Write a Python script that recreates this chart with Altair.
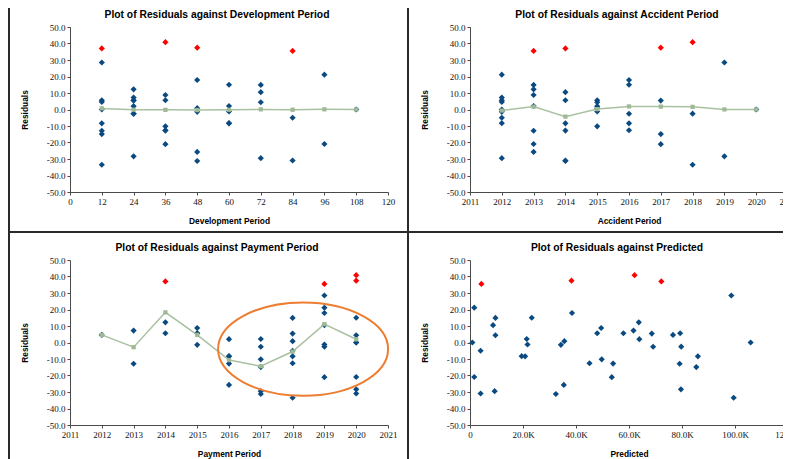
import altair as alt
import pandas as pd

# ---------------- data ----------------
accident_years = [2012, 2013, 2014, 2015, 2016, 2017, 2018, 2019, 2020]
dev_periods = [12, 24, 36, 48, 60, 72, 84, 96, 108]

# residual triangle: rows = accident year, columns = development period
residuals = [
    [4.6, 7.2, 5.6, -1.4, -8.3, -29.5, -5.0, 21.1, 0.0],
    [-12.9, 12.2, 8.8, -25.7, 2.1, 14.9, 35.5, -20.9],
    [37.0, 5.6, -12.8, -31.2, -8.4, 10.5, -30.9],
    [5.6, 2.0, -10.2, 0.8, -1.2, 4.4],
    [-8.4, -2.6, -12.6, 17.9, 15.0],
    [-14.9, 5.4, -21.0, 37.5],
    [-33.5, -2.5, 40.8],
    [28.5, -28.4],
    [0.0],
]

# predicted values (thousands) for the same cells
predicted_k = [
    [76.6, 61.7, 48.0, 34.3, 19.5, 9.3, 4.0, 1.6, 0.9],
    [79.1, 63.7, 49.5, 35.4, 21.4, 9.6, 4.3, 1.6],
    [72.2, 57.9, 54.0, 32.4, 20.8, 8.7, 4.0],
    [79.3, 63.9, 49.7, 35.6, 21.7, 9.6],
    [86.0, 69.1, 45.1, 38.5, 23.3],
    [85.4, 68.6, 53.5, 38.3],
    [99.5, 79.7, 62.1],
    [98.6, 79.6],
    [105.9],
]

OUTLIER_LEVEL = 35  # residuals above this are shown in red

# annotation ellipse on the payment-period panel (data coordinates)
ellipse_center_year = [2018.33]
ellipse_center_resid = [-4.0]

panel_titles = [
    "Plot of Residuals against Development Period",
    "Plot of Residuals against Accident Period",
    "Plot of Residuals against Payment Period",
    "Plot of Residuals against Predicted",
]

rows = []
for i, ay in enumerate(accident_years):
    for j, r in enumerate(residuals[i]):
        rows.append({
            "ay": ay,
            "dev": dev_periods[j],
            "pay": ay + j,
            "resid": r,
            "pred": predicted_k[i][j] * 1000,
        })
df = pd.DataFrame(rows)

# ---------------- styling ----------------
BLUE = "#0B4A80"
RED = "#FF0000"
GREEN_LINE = "#A9C1A0"
GREEN_MARK = "#9FB895"
ORANGE = "#ED7D31"
SEP = "#2A2A2A"

W = 318
H = 165

Y_LABELS = "(datum.value < 0 ? '-' : '') + format(abs(datum.value), '.1f')"

one = pd.DataFrame({"k": [0]})


def y_enc(field="resid:Q"):
    return alt.Y(
        field,
        scale=alt.Scale(domain=[-50, 50], nice=False, zero=False),
        axis=alt.Axis(
            values=list(range(-50, 51, 10)),
            labelExpr=Y_LABELS,
            title="Residuals",
            titleX=-46,
            titleY=H / 2,
            titleBaseline="middle",
            titleAngle=-90,
        ),
    )


def x_enc(field, domain, values, xtitle, label_expr=None, fmt=None):
    axis_kw = dict(
        values=values,
        title=xtitle,
        titleY=28,
        titleBaseline="middle",
        labelFlush=False,
        labelOverlap=False,
    )
    if label_expr:
        axis_kw["labelExpr"] = label_expr
    if fmt:
        axis_kw["format"] = fmt
    return alt.X(
        field,
        scale=alt.Scale(domain=domain, nice=False, zero=False),
        axis=alt.Axis(**axis_kw),
    )


def make_panel(title, x, with_mean=True, extra=()):
    pts = alt.Chart(df).mark_point(
        shape="diamond", filled=True, size=38, opacity=1
    ).encode(
        x=x,
        y=y_enc(),
        color=alt.condition(
            alt.datum.resid > OUTLIER_LEVEL, alt.value(RED), alt.value(BLUE)
        ),
    )
    layers = [pts]
    if with_mean:
        line = alt.Chart(df).mark_line(
            color=GREEN_LINE,
            strokeWidth=1.5,
            point=alt.OverlayMarkDef(
                shape="square", size=18, filled=True, color=GREEN_MARK, opacity=1
            ),
        ).encode(x=x, y=y_enc("mean(resid):Q"))
        layers.append(line)
    title_mark = alt.Chart(one).mark_text(
        font="Liberation Sans",
        fontSize=10.3,
        fontWeight="bold",
        color="black",
        align="center",
        baseline="alphabetic",
    ).encode(x=alt.value(W / 2 - 12), y=alt.value(-9), text=alt.value(title))
    layers.append(title_mark)
    layers.extend(extra)
    return alt.layer(*layers).properties(width=W, height=H)


sep_left = alt.Chart(one).mark_rule(color=SEP, strokeWidth=2).encode(
    x=alt.value(-61), y=alt.value(-19), y2=alt.value(432)
)
sep_mid = alt.Chart(one).mark_rule(color=SEP, strokeWidth=2).encode(
    x=alt.value(338), y=alt.value(-19), y2=alt.value(432)
)
sep_horiz = alt.Chart(one).mark_rule(color=SEP, strokeWidth=2).encode(
    x=alt.value(-61), x2=alt.value(721), y=alt.value(205)
)

years_axis_values = list(range(2011, 2022))

p1 = make_panel(
    panel_titles[0],
    x_enc("dev:Q", [0, 120], list(range(0, 121, 12)), "Development Period", fmt="d"),
    extra=(sep_left, sep_mid, sep_horiz),
)
p2 = make_panel(
    panel_titles[1],
    x_enc("ay:Q", [2011, 2021], years_axis_values, "Accident Period", fmt="d"),
)

ell_df = pd.DataFrame({"pay": ellipse_center_year, "resid": ellipse_center_resid})
x_pay = x_enc("pay:Q", [2011, 2021], years_axis_values, "Payment Period", fmt="d")
ellipse = alt.Chart(ell_df).mark_point(
    shape="M-1,0A1,0.549,0,1,1,1,0A1,0.549,0,1,1,-1,0Z",
    size=28900,
    filled=False,
    stroke=ORANGE,
    strokeWidth=2,
    opacity=1,
).encode(x=x_pay, y=y_enc())

p3 = make_panel(panel_titles[2], x_pay, extra=(ellipse,))
p4 = make_panel(
    panel_titles[3],
    x_enc(
        "pred:Q",
        [0, 120000],
        list(range(0, 120001, 20000)),
        "Predicted",
        label_expr="datum.value == 0 ? '0' : format(datum.value / 1000, '.1f') + 'K'",
    ),
    with_mean=False,
)

chart = (
    alt.concat(p1, p2, p3, p4, columns=2, spacing={"row": 68, "column": 82}, bounds="flush")
    .properties(
        autosize=alt.AutoSizeParams(type="none"),
        padding={"left": 62, "top": 19, "right": 713, "bottom": 432},
    )
    .configure_view(stroke=None)
    .configure_axis(
        grid=False,
        domainColor="#4A4A4A",
        domainWidth=1,
        tickColor="#4A4A4A",
        tickSize=3,
        labelPadding=2,
        labelFont="Liberation Serif",
        labelFontSize=9,
        labelColor="#111111",
        titleFont="Liberation Sans",
        titleFontSize=8.4,
        titleFontWeight="bold",
        titleColor="black",
    )
)

chart.save("out.html", embed_options={"renderer": "svg", "actions": False})
